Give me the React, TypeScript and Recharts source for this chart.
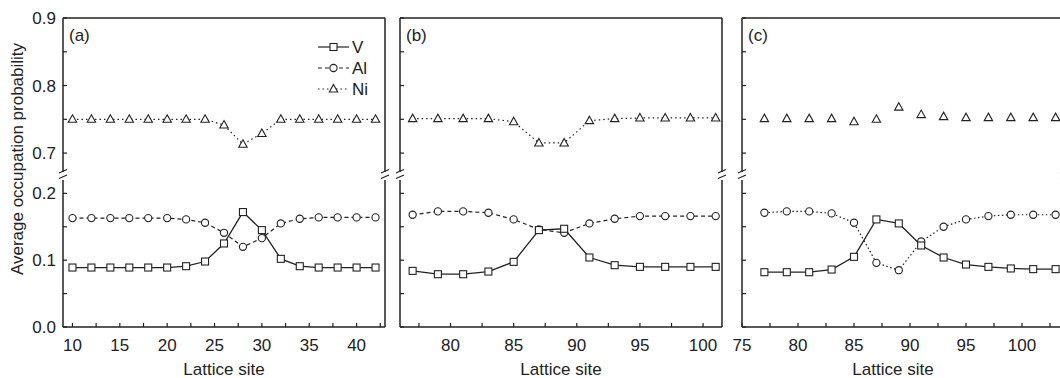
import React from 'react'
import { LineChart, Line, XAxis, YAxis, Legend } from 'recharts'

// Average occupation probability per lattice site
const sitesA = [10, 12, 14, 16, 18, 20, 22, 24, 26, 28, 30, 32, 34, 36, 38, 40, 42]
const vA = [0.089, 0.089, 0.089, 0.089, 0.089, 0.089, 0.091, 0.098, 0.125, 0.172, 0.145, 0.102, 0.091, 0.089, 0.089, 0.089, 0.089]
const alA = [0.163, 0.163, 0.163, 0.163, 0.163, 0.163, 0.161, 0.156, 0.141, 0.12, 0.133, 0.155, 0.162, 0.164, 0.164, 0.164, 0.164]
const niA = [0.75, 0.75, 0.75, 0.75, 0.75, 0.75, 0.75, 0.75, 0.7415, 0.713, 0.729, 0.75, 0.75, 0.75, 0.75, 0.75, 0.75]

const sitesB = [77, 79, 81, 83, 85, 87, 89, 91, 93, 95, 97, 99, 101]
const vB = [0.084, 0.079, 0.079, 0.083, 0.0975, 0.145, 0.147, 0.104, 0.0925, 0.09, 0.09, 0.09, 0.09]
const alB = [0.168, 0.173, 0.173, 0.171, 0.161, 0.146, 0.141, 0.155, 0.162, 0.166, 0.166, 0.166, 0.166]
const niB = [0.751, 0.751, 0.751, 0.751, 0.7465, 0.715, 0.715, 0.748, 0.751, 0.752, 0.752, 0.752, 0.752]

const sitesC = [77, 79, 81, 83, 85, 87, 89, 91, 93, 95, 97, 99, 101, 103]
const vC = [0.082, 0.082, 0.082, 0.086, 0.105, 0.161, 0.155, 0.122, 0.104, 0.0935, 0.09, 0.0876, 0.0866, 0.0866]
const alC = [0.171, 0.173, 0.173, 0.17, 0.156, 0.096, 0.085, 0.128, 0.15, 0.161, 0.166, 0.168, 0.168, 0.168]
const niC = [0.751, 0.751, 0.751, 0.751, 0.7465, 0.75, 0.768, 0.757, 0.754, 0.7525, 0.7525, 0.7525, 0.7525, 0.7525]

// tick positions
const upperTicks = [0.7, 0.75, 0.8, 0.85, 0.9]
const lowerTicks = [0, 0.05, 0.1, 0.15, 0.2]
const xTicksA = [10, 12.5, 15, 17.5, 20, 22.5, 25, 27.5, 30, 32.5, 35, 37.5, 40, 42.5]
const xTicksB = [77.5, 80, 82.5, 85, 87.5, 90, 92.5, 95, 97.5, 100]
const xTicksC = [75, 77.5, 80, 82.5, 85, 87.5, 90, 92.5, 95, 97.5, 100, 102.5]

const INK = '#222'
const FONT = '"Liberation Sans", Arial, Helvetica, sans-serif'
const FS = 17
const PLOT_W = 322
const PAD_R = 10
const UPPER_DOMAIN = [0.672, 0.9]
const LOWER_DOMAIN = [0, 0.22]
const axisStyle = { stroke: INK, strokeWidth: 1.5 }

type Shape = 'square' | 'circle' | 'triangle'

function Marker({ shape, cx, cy }: { shape: Shape; cx: number; cy: number }) {
  const common = { fill: '#fff', stroke: INK, strokeWidth: 1.1 }
  if (shape === 'square') return <rect x={cx - 3.5} y={cy - 3.5} width={7} height={7} {...common} />
  if (shape === 'circle') return <circle cx={cx} cy={cy} r={3.6} {...common} />
  return <path d={`M${cx},${cy - 4.5}L${cx + 4.2},${cy + 3}L${cx - 4.2},${cy + 3}Z`} {...common} />
}

const dotFor = (shape: Shape) => (p: any) =>
  p.cx == null ? <g key={`n${p.index}`} /> : <Marker key={`${shape}${p.index}`} shape={shape} cx={p.cx} cy={p.cy} />

const legendRows: { name: string; shape: Shape; dash?: string }[] = [
  { name: 'V', shape: 'square' },
  { name: 'Al', shape: 'circle', dash: '4 3' },
  { name: 'Ni', shape: 'triangle', dash: '1.5 3' },
]

const LegendBox = () => (
  <svg width={70} height={66} style={{ display: 'block' }}>
    {legendRows.map((r, i) => {
      const y = 11 + i * 21
      return (
        <g key={r.name}>
          <line x1={4} x2={35} y1={y} y2={y} stroke={INK} strokeWidth={1.2} strokeDasharray={r.dash} />
          <Marker shape={r.shape} cx={19.5} cy={y} />
          <text x={38} y={y + 6} fontSize={FS} fontFamily={FONT} fill={INK}>{r.name}</text>
        </g>
      )
    })}
  </svg>
)

const YTick = ({ x, y, payload, showLabel }: any) => {
  const v = payload.value
  const major = Math.round(v * 100) % 10 === 0
  return (
    <g>
      <line x1={x} x2={x + 4} y1={y} y2={y} stroke={INK} strokeWidth={1.2} />
      {showLabel && major && (
        <text x={x - 7} y={y + 6} textAnchor="end" fontSize={FS} fontFamily={FONT} fill={INK}>{v.toFixed(1)}</text>
      )}
    </g>
  )
}

const XTick = ({ x, y, payload }: any) => (
  <g>
    <line x1={x} x2={x} y1={y} y2={y - 4} stroke={INK} strokeWidth={1.2} />
    {payload.value % 5 === 0 && (
      <text x={x} y={y + 24} textAnchor="middle" fontSize={FS} fontFamily={FONT} fill={INK}>{payload.value}</text>
    )}
  </g>
)

const panels = [
  { tag: '(a)', sites: sitesA, v: vA, al: alA, ni: niA, xDomain: [9, 43], xTicks: xTicksA, plotLeft: 63, padLeft: 63, yLabels: true, alDash: '4 3', niDash: '1.5 3', titleDx: 0, legend: true },
  { tag: '(b)', sites: sitesB, v: vB, al: alB, ni: niB, xDomain: [76, 101.5], xTicks: xTicksB, plotLeft: 400, padLeft: 10, yLabels: false, alDash: '4 3', niDash: '1.5 3', titleDx: 0, legend: false },
  { tag: '(c)', sites: sitesC, v: vC, al: alC, ni: niC, xDomain: [75, 103.75], xTicks: xTicksC, plotLeft: 742, padLeft: 10, yLabels: false, alDash: '1.5 2.5', niDash: null, titleDx: -10, legend: false },
]

function Panel({ p }: { p: (typeof panels)[number] }) {
  const data = p.sites.map((s, i) => ({ site: s, V: p.v[i], Al: p.al[i], Ni: p.ni[i] }))
  const left = p.plotLeft - p.padLeft
  const width = p.padLeft + PLOT_W + PAD_R
  const yAxisW = p.yLabels ? 50 : 10
  const mLeft = p.padLeft - yAxisW

  return (
    <>
      {/* upper segment: Ni */}
      <div style={{ position: 'absolute', left, top: 0 }}>
        <LineChart width={width} height={180} data={data} margin={{ top: 16, bottom: 8, left: mLeft, right: 5 }}>
          <XAxis xAxisId="x" orientation="top" type="number" dataKey="site" domain={p.xDomain} allowDataOverflow height={2} tick={false} tickLine={false} axisLine={axisStyle} />
          <YAxis yAxisId="l" type="number" domain={UPPER_DOMAIN} ticks={upperTicks} interval={0} allowDataOverflow width={yAxisW}
            tickSize={0} tickMargin={0} tickLine={false} axisLine={axisStyle}
            tick={(t: any) => <YTick x={t.x} y={t.y} payload={t.payload} showLabel={p.yLabels} />} />
          <YAxis yAxisId="r" orientation="right" type="number" domain={UPPER_DOMAIN} allowDataOverflow width={5} tick={false} tickLine={false} axisLine={axisStyle} />
          <Line xAxisId="x" yAxisId="l" dataKey="Ni" stroke={p.niDash ? INK : 'none'} strokeWidth={1.2} strokeDasharray={p.niDash ?? undefined}
            dot={dotFor('triangle')} activeDot={false} isAnimationActive={false} />
          {p.legend && (
            <Legend layout="vertical" align="center" verticalAlign="middle" content={() => <LegendBox />}
              wrapperStyle={{ left: 314, top: 36, width: 70, height: 66 }} />
          )}
        </LineChart>
      </div>
      {/* lower segment: V and Al */}
      <div style={{ position: 'absolute', left, top: 176 }}>
        <LineChart width={width} height={202} data={data} margin={{ top: 4, bottom: 6, left: mLeft, right: 5 }}>
          <XAxis xAxisId="x" type="number" dataKey="site" domain={p.xDomain} ticks={p.xTicks} interval={0} allowDataOverflow height={45}
            tickSize={0} tickMargin={0} tickLine={false} axisLine={axisStyle} tick={(t: any) => <XTick x={t.x} y={t.y} payload={t.payload} />}
            label={{ value: 'Lattice site', position: 'insideBottom', offset: -3, dx: p.titleDx, fontSize: FS, fontFamily: FONT, fill: INK }} />
          <YAxis yAxisId="l" type="number" domain={LOWER_DOMAIN} ticks={lowerTicks} interval={0} allowDataOverflow width={yAxisW}
            tickSize={0} tickMargin={0} tickLine={false} axisLine={axisStyle}
            tick={(t: any) => <YTick x={t.x} y={t.y} payload={t.payload} showLabel={p.yLabels} />} />
          <YAxis yAxisId="r" orientation="right" type="number" domain={LOWER_DOMAIN} allowDataOverflow width={5} tick={false} tickLine={false} axisLine={axisStyle} />
          <Line xAxisId="x" yAxisId="l" dataKey="Al" stroke={INK} strokeWidth={1.2} strokeDasharray={p.alDash}
            dot={dotFor('circle')} activeDot={false} isAnimationActive={false} />
          <Line xAxisId="x" yAxisId="l" dataKey="V" stroke={INK} strokeWidth={1.3}
            dot={dotFor('square')} activeDot={false} isAnimationActive={false} />
        </LineChart>
      </div>
    </>
  )
}

export default function App() {
  // panel edges that get the axis-break marks
  const edges = panels.flatMap(p => [p.plotLeft, p.plotLeft + PLOT_W])
  return (
    <div style={{ position: 'absolute', left: 0, top: 0, width: 1060, height: 378, overflow: 'hidden', background: '#fff', fontFamily: FONT }}>
      {panels.map(p => <Panel key={p.tag} p={p} />)}
      <svg width={1060} height={378} style={{ position: 'absolute', left: 0, top: 0, pointerEvents: 'none' }}>
        <text x={17} y={159} transform="rotate(-90 17 159)" textAnchor="middle" dominantBaseline="central" fontSize={FS} fontFamily={FONT} fill={INK}>
          Average occupation probability
        </text>
        {panels.map(p => (
          <text key={p.tag} x={p.plotLeft + 6} y={41} fontSize={FS} fontFamily={FONT} fill={INK}>{p.tag}</text>
        ))}
        {edges.map(x => (
          <g key={x} stroke={INK} strokeWidth={1.2}>
            <line x1={x - 4} y1={173} x2={x + 4} y2={169.5} />
            <line x1={x - 4} y1={178.5} x2={x + 4} y2={175} />
          </g>
        ))}
      </svg>
    </div>
  )
}
